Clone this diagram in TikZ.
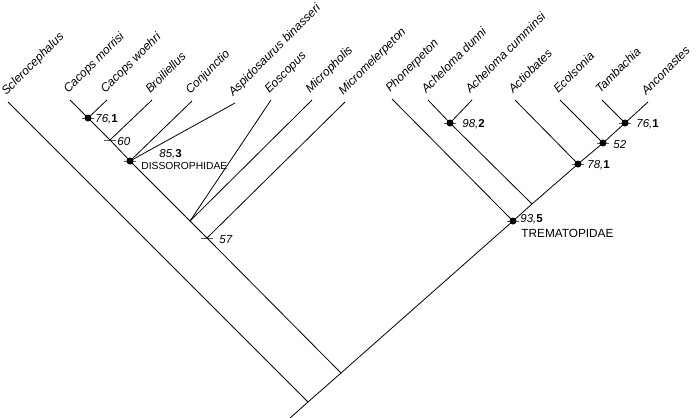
\documentclass[tikz,border=0pt]{standalone}
\usepackage{fontspec}
\setmainfont{Liberation Sans}

\begin{document}
\begin{tikzpicture}[x=1pt, y=-1pt, line width=0.8pt,
  taxon/.style={rotate=45, anchor=base west, inner sep=0pt, font=\fontsize{12}{13}\selectfont\itshape},
  support/.style={anchor=base west, inner sep=0pt, font=\fontsize{11.5}{12}\selectfont},
  clade/.style={anchor=base west, inner sep=0pt, font=\fontsize{10.3}{12}\selectfont},
  dot/.style={circle, fill, inner sep=0pt, minimum size=7pt},
  tickmark/.style={draw, inner sep=0pt, minimum width=12pt, minimum height=0pt}]
  \useasboundingbox (0,0) rectangle (697,418);

  % tips
  \coordinate (scl)  at (8,102);
  \coordinate (cmor) at (70,100);
  \coordinate (cwoe) at (107,100);
  \coordinate (broi) at (152,100);
  \coordinate (conj) at (192,101);
  \coordinate (aspi) at (235,103);
  \coordinate (eosc) at (271,100);
  \coordinate (micp) at (312,100);
  \coordinate (mmel) at (345,102);
  \coordinate (phon) at (392,99);
  \coordinate (adun) at (428,100);
  \coordinate (acum) at (472,100);
  \coordinate (acti) at (515,100);
  \coordinate (ecol) at (560,100);
  \coordinate (tamb) at (602,100);
  \coordinate (anco) at (648,102);

  % internal nodes
  \coordinate (root) at (290,418);
  \coordinate (nScl) at (308,402);
  \coordinate (nOls) at (341,373);
  \coordinate (nCac) at (88,118);
  \coordinate (n60)  at (110,140);
  \coordinate (nDis) at (130,161);
  \coordinate (nEos) at (190,221);
  \coordinate (n57)  at (207,238);
  \coordinate (nTre) at (513,221);
  \coordinate (nAch) at (450,123);
  \coordinate (nAcj) at (532,204);
  \coordinate (nAct) at (578,164);
  \coordinate (nEco) at (603,143);
  \coordinate (nTam) at (625,123);

  \node[taxon] (sclL)  at (6,96)    {Sclerocephalus};
  \node[taxon] (cmorL) at (68,94)   {Cacops morrisi};
  \node[taxon] (cwoeL) at (105,94)  {Cacops woehri};
  \node[taxon] (broiL) at (150,94)  {Broiliellus};
  \node[taxon] (conjL) at (190,95)  {Conjunctio};
  \node[taxon] (aspiL) at (233,97)  {Aspidosaurus binasseri};
  \node[taxon] (eoscL) at (269,94)  {Eoscopus};
  \node[taxon] (micpL) at (310,94)  {Micropholis};
  \node[taxon] (mmelL) at (343,96)  {Micromelerpeton};
  \node[taxon] (phonL) at (390,93)  {Phonerpeton};
  \node[taxon] (adunL) at (426,94)  {Acheloma dunni};
  \node[taxon] (acumL) at (470,94)  {Acheloma cumminsi};
  \node[taxon] (actiL) at (513,94)  {Actiobates};
  \node[taxon] (ecolL) at (558,94)  {Ecolsonia};
  \node[taxon] (tambL) at (600,94)  {Tambachia};
  \node[taxon] (ancoL) at (646,96)  {Anconastes};

  \draw (root) -- (nScl) -- (nOls) -- (nTre) -- (nAcj) -- (nAct) -- (nEco) -- (nTam) -- (anco);
  \draw (scl) -- (nScl);
  \draw (cmor) -- (nCac) -- (n60) -- (nDis) -- (nEos) -- (n57) -- (nOls);
  \draw (cwoe) -- (nCac);
  \draw (broi) -- (n60);
  \draw (conj) -- (nDis);
  \draw (aspi) -- (nDis);
  \draw (eosc) -- (nEos);
  \draw (micp) -- (nEos);
  \draw (mmel) -- (n57);
  \draw (phon) -- (nTre);
  \draw (adun) -- (nAch) -- (nAcj);
  \draw (acum) -- (nAch);
  \draw (acti) -- (nAct);
  \draw (ecol) -- (nEco);
  \draw (tamb) -- (nTam);

  \node[tickmark] (tCac) at (nCac) {};
  \node[tickmark] (t60)  at (n60)  {};
  \node[tickmark] (tDis) at (nDis) {};
  \node[tickmark] (t57)  at (n57)  {};
  \node[tickmark] (tAch) at (nAch) {};
  \node[tickmark] (tTre) at (nTre) {};
  \node[tickmark] (tAct) at (nAct) {};
  \node[tickmark] (tEco) at (nEco) {};
  \node[tickmark] (tTam) at (nTam) {};
  \node[dot] (dCac) at (nCac) {};
  \node[dot] (dDis) at (nDis) {};
  \node[dot] (dAch) at (nAch) {};
  \node[dot] (dTre) at (nTre) {};
  \node[dot] (dAct) at (nAct) {};
  \node[dot] (dEco) at (nEco) {};
  \node[dot] (dTam) at (nTam) {};

  \node[support] (sCac) at (95,122)  {\textit{76,}\textbf{1}};
  \node[support] (s60)  at (117,145) {\textit{60}};
  \node[support] (sDis) at (159,157) {\textit{85,}\textbf{3}};
  \node[clade]   (cDis) at (141,169) {DISSOROPHIDAE};
  \node[support] (s57)  at (219,243) {\textit{57}};
  \node[support] (sAch) at (462,127) {\textit{98,}\textbf{2}};
  \node[support] (sTre) at (520,222) {\textit{93,}\textbf{5}};
  \node[clade, font=\fontsize{11.8}{13}\selectfont] (cTre) at (521,237) {TREMATOPIDAE};
  \node[support] (sAct) at (587,168) {\textit{78,}\textbf{1}};
  \node[support] (sEco) at (613,148) {\textit{52}};
  \node[support] (sTam) at (636,127) {\textit{76,}\textbf{1}};
\end{tikzpicture}
\end{document}
